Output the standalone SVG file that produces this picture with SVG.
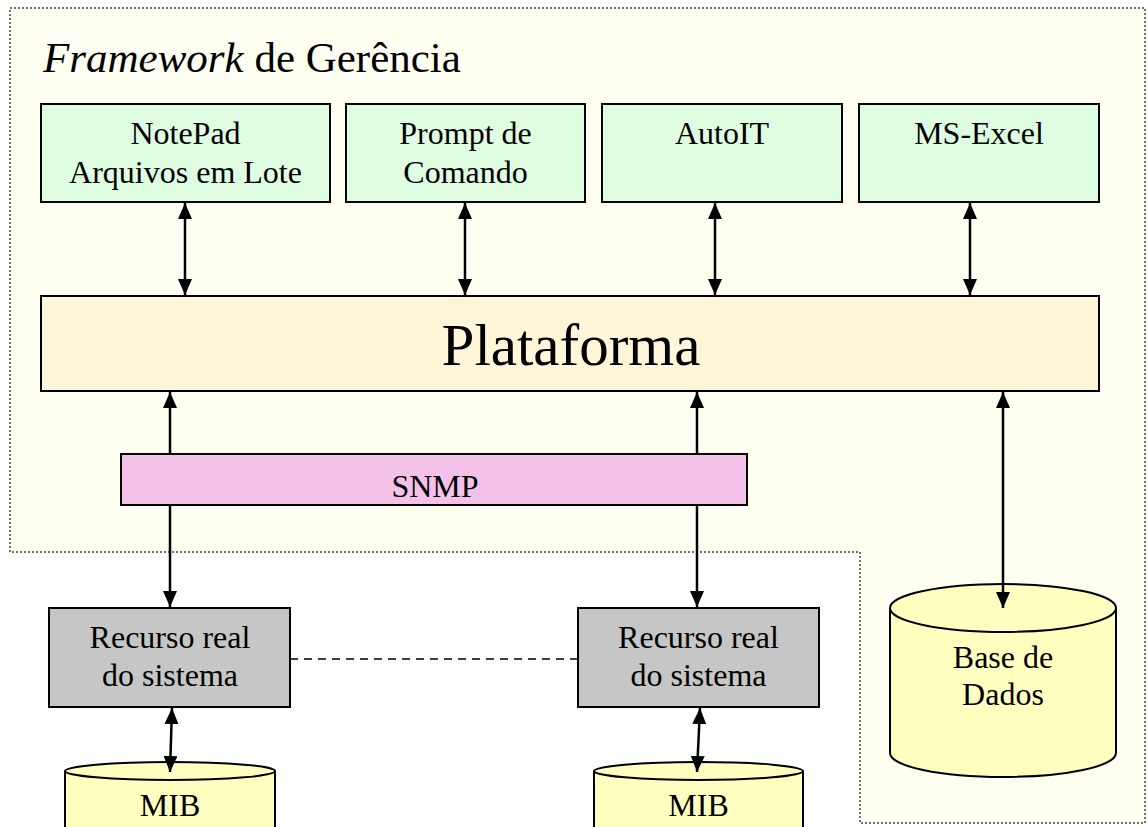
<svg xmlns="http://www.w3.org/2000/svg" width="1147" height="827" viewBox="0 0 1147 827">
<defs>
<style>
.t{font-family:"Liberation Serif","Times New Roman",serif;fill:#000;text-anchor:middle}
.box{stroke:#000;stroke-width:2}
.app{fill:#DFFDE1}
.con{stroke:#000;stroke-width:2.5;fill:none}
.cyl{fill:#FFFFC0;stroke:#000;stroke-width:2}
</style>
<marker id="ah" viewBox="0 0 16 14" refX="16" refY="7" markerWidth="16" markerHeight="14" markerUnits="userSpaceOnUse" orient="auto-start-reverse">
<path d="M0,0 L16,7 L0,14 z" fill="#000"/>
</marker>
</defs>
<rect width="1147" height="827" fill="#fff"/>
<g id="framework">
<path d="M10,8 H1145 V823 H860 V552 H10 Z" fill="#FFFFF2" stroke="#444" stroke-width="1.5" stroke-dasharray="2,2"/>
<text class="t" x="43" y="72" font-size="43" style="text-anchor:start"><tspan font-style="italic">Framework</tspan> de Gerência</text>
</g>
<g id="notepad">
<rect class="box app" x="41" y="104" width="289" height="98"/>
<text class="t" x="185.5" y="144" font-size="32">NotePad</text>
<text class="t" x="185.5" y="183" font-size="32">Arquivos em Lote</text>
</g>
<g id="prompt">
<rect class="box app" x="346" y="104" width="239" height="98"/>
<text class="t" x="465.5" y="144" font-size="32">Prompt de</text>
<text class="t" x="465.5" y="183" font-size="32">Comando</text>
</g>
<g id="autoit">
<rect class="box app" x="602" y="104" width="240" height="98"/>
<text class="t" x="722" y="144" font-size="32">AutoIT</text>
</g>
<g id="msexcel">
<rect class="box app" x="859" y="104" width="240" height="98"/>
<text class="t" x="979" y="144" font-size="32">MS-Excel</text>
</g>
<g id="plataforma">
<rect class="box" x="41" y="296" width="1058" height="95" fill="#FFF5D8"/>
<text class="t" x="571" y="365" font-size="59">Plataforma</text>
</g>
<g id="snmp">
<rect class="box" x="121" y="454" width="626" height="51" fill="#F4C2E8"/>
<text class="t" x="435" y="497" font-size="32">SNMP</text>
</g>
<g id="recurso1">
<rect class="box" x="49" y="608" width="241" height="99" fill="#C6C6C6"/>
<text class="t" x="170" y="648" font-size="32">Recurso real</text>
<text class="t" x="170" y="686" font-size="32">do sistema</text>
</g>
<g id="recurso2">
<rect class="box" x="578" y="608" width="241" height="99" fill="#C6C6C6"/>
<text class="t" x="698.5" y="648" font-size="32">Recurso real</text>
<text class="t" x="698.5" y="686" font-size="32">do sistema</text>
</g>
<g id="mib1">
<path class="cyl" d="M65,771 V840 H275 V771"/>
<ellipse class="cyl" cx="170" cy="771" rx="105" ry="9"/>
<text class="t" x="170" y="816" font-size="32">MIB</text>
</g>
<g id="mib2">
<path class="cyl" d="M594,771 V840 H803 V771"/>
<ellipse class="cyl" cx="698.5" cy="771" rx="104.5" ry="9"/>
<text class="t" x="698.5" y="816" font-size="32">MIB</text>
</g>
<g id="basedados">
<path class="cyl" d="M890,608 V753 A113,24 0 0 0 1116,753 V608"/>
<ellipse class="cyl" cx="1003" cy="608" rx="113" ry="24"/>
<text class="t" x="1003" y="668" font-size="32">Base de</text>
<text class="t" x="1003" y="705" font-size="32">Dados</text>
</g>
<g id="connectors">
<line class="con" x1="185" y1="203" x2="185" y2="295" marker-start="url(#ah)" marker-end="url(#ah)"/>
<line class="con" x1="465" y1="203" x2="465" y2="295" marker-start="url(#ah)" marker-end="url(#ah)"/>
<line class="con" x1="715" y1="203" x2="715" y2="295" marker-start="url(#ah)" marker-end="url(#ah)"/>
<line class="con" x1="970" y1="203" x2="970" y2="295" marker-start="url(#ah)" marker-end="url(#ah)"/>
<line class="con" x1="170" y1="454" x2="170" y2="392" marker-end="url(#ah)"/>
<line class="con" x1="697" y1="454" x2="697" y2="392" marker-end="url(#ah)"/>
<line class="con" x1="170" y1="505" x2="170" y2="607" marker-end="url(#ah)"/>
<line class="con" x1="697" y1="505" x2="697" y2="607" marker-end="url(#ah)"/>
<line class="con" x1="1003" y1="392" x2="1003" y2="608" marker-start="url(#ah)" marker-end="url(#ah)"/>
<line class="con" x1="172" y1="708" x2="170" y2="772" marker-start="url(#ah)" marker-end="url(#ah)"/>
<line class="con" x1="700" y1="708" x2="697" y2="772" marker-start="url(#ah)" marker-end="url(#ah)"/>
<line x1="290" y1="659" x2="578" y2="659" stroke="#000" stroke-width="1.5" stroke-dasharray="8,6"/>
</g>
</svg>
